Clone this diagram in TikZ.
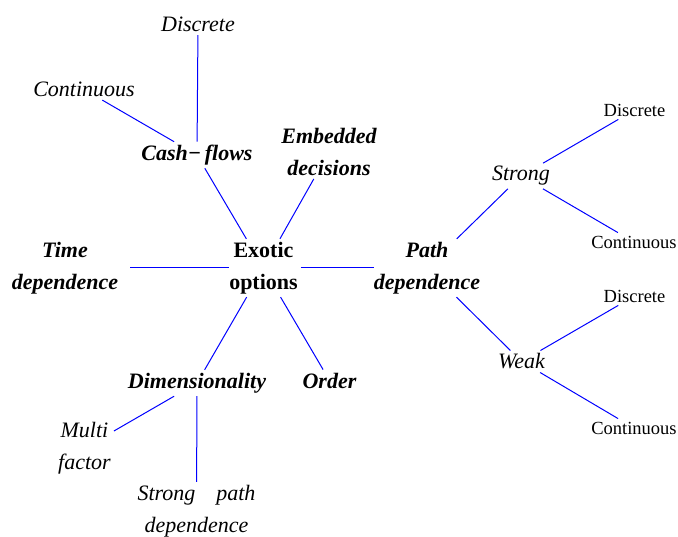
\documentclass[tikz,border=0pt]{standalone}
\usepackage{fontspec}
\setmainfont{Liberation Serif}[
  UprightFont={Liberation Serif},
  BoldFont={Liberation Serif Bold},
  ItalicFont={Liberation Serif Italic},
  BoldItalicFont={Liberation Serif Bold Italic}]
\begin{document}
\begin{tikzpicture}[x=1pt,y=-1pt,
  bi/.style={font=\fontsize{22}{32}\selectfont\bfseries\itshape, align=center, inner sep=3pt},
  bu/.style={font=\fontsize{22}{32}\selectfont\bfseries, align=center, inner sep=3pt},
  it/.style={font=\fontsize{22}{32}\selectfont\itshape, align=center, inner sep=3pt},
  up/.style={font=\fontsize{18.5}{22}\selectfont, inner sep=3pt},
  link/.style={draw=blue, line width=1pt}]
\useasboundingbox (0,0) rectangle (678,537);
% central
\node[bu] (exo) at (263.5,268) {Exotic\\options};
% level 1
\node[bi] (cash) at (197,155) {Cash−\,flows};
\node[bi] (emb) at (329,152) {Embedded\\decisions};
\node[bi] (time) at (65,268) {Time\\dependence};
\node[bi] (path) at (427,268) {Path\\dependence};
\node[bi] (dim) at (197,383) {Dimensionality};
\node[bi] (ord) at (329.5,380.5) {Order};
% cash-flows children
\node[it] (cdisc) at (198,24.5) {Discrete};
\node[it] (ccont) at (84,89.5) {Continuous};
% dimensionality children
\node[it] (multi) at (84.5,448) {Multi\\factor};
\node[it] (spd) at (196.5,511) {Strong\hspace{0.95em}path\\dependence};
% path children
\node[it] (strong) at (521,176) {Strong};
\node[it] (weak) at (521.5,361.5) {Weak};
\node[up] (sdisc) at (634.5,110) {Discrete};
\node[up] (scont) at (634,242) {Continuous};
\node[up] (wdisc) at (634.5,296) {Discrete};
\node[up] (wcont) at (634,428) {Continuous};
% connectors
\draw[link] (cdisc) -- (cash);
\draw[link] (ccont) -- (cash);
\draw[link] (cash) -- (exo);
\draw[link] (emb) -- (exo);
\draw[link, shorten <=9pt, shorten >=-3pt] (time) -- (exo);
\draw[link, shorten >=-3pt] (exo) -- (path);
\draw[link] (exo) -- (dim);
\draw[link] (exo) -- (ord);
\draw[link] (dim) -- (multi);
\draw[link] (dim) -- (spd);
\draw[link] (path) -- (strong);
\draw[link] (path) -- (weak);
\draw[link] (strong) -- (sdisc);
\draw[link] (strong) -- (scont);
\draw[link] (weak) -- (wdisc);
\draw[link] (weak) -- (wcont);
\end{tikzpicture}
\end{document}
